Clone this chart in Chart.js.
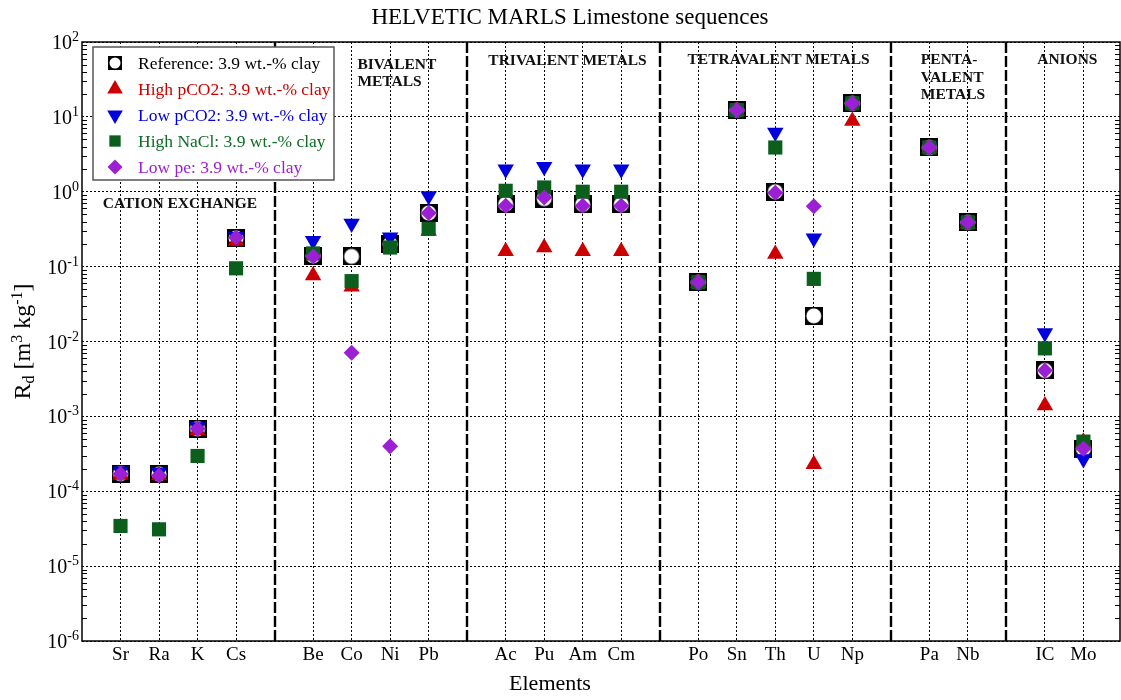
<!DOCTYPE html>
<html>
<head>
<meta charset="utf-8">
<title>HELVETIC MARLS Limestone sequences</title>
<script src="https://cdn.jsdelivr.net/npm/chart.js@4/dist/chart.umd.min.js"></script>
<style>
  html, body { margin: 0; padding: 0; background: #fff; }
  #wrap { width: 1121px; height: 700px; }
</style>
</head>
<body>
<div id="wrap"><canvas id="chart" width="1121" height="700"></canvas></div>
<script>
// Element symbols and their slot on the x axis (empty slots separate the groups)
const elements = ['Sr','Ra','K','Cs','Be','Co','Ni','Pb','Ac','Pu','Am','Cm','Po','Sn','Th','U','Np','Pa','Nb','IC','Mo'];
const slots    = [1, 2, 3, 4, 6, 7, 8, 9, 11, 12, 13, 14, 16, 17, 18, 19, 20, 22, 23, 25, 26];
const groupBreaks = [5, 10, 15, 21, 24];

// Rd values [m3 kg-1], one entry per element above
const reference = [1.72e-4, 1.70e-4, 6.85e-4, 0.24,   0.14, 0.137, 0.20, 0.52,   0.685, 0.81, 0.68, 0.68,   0.062, 12.3, 1.0, 0.022, 15.2,   3.9, 0.39,   0.0041, 3.7e-4];
const highPCO2  = [1.65e-4, 1.62e-4, 6.5e-4,  0.22,   0.076, 0.054, 0.19, 0.30,  0.16, 0.18, 0.16, 0.16,     0.060, 12.0, 0.148, 2.3e-4, 8.8, 3.8, 0.37,   0.0014, 4.6e-4];
const lowPCO2   = [1.85e-4, 1.80e-4, 7.2e-4,  0.25,   0.222, 0.378, 0.246, 0.88, 2.0, 2.15, 2.0, 2.0,        0.063, 12.6, 6.2, 0.24, 15.5,    4.0, 0.40,   0.013, 2.7e-4];
const highNaCl  = [3.44e-5, 3.1e-5, 2.96e-4,  0.095,  0.15, 0.064, 0.18, 0.32,   1.03, 1.14, 1.0, 1.0,       0.062, 12.3, 3.9, 0.0686, 15.2,  3.9, 0.39,   0.0081, 4.6e-4];
const lowPe     = [1.70e-4, 1.62e-4, 6.85e-4, 0.245,  0.137, 0.0071, 4.0e-4, 0.52, 0.65, 0.84, 0.65, 0.65,   0.062, 12.3, 0.97, 0.64, 15.2,   3.9, 0.39,   0.0041, 3.7e-4];

// Decade ticks of the logarithmic axis
const decadeTicks = [1e-6, 1e-5, 1e-4, 1e-3, 1e-2, 1e-1, 1, 10, 100];
const decadeExponents = ['-6', '-5', '-4', '-3', '-2', '-1', '0', '1', '2'];

// Group captions
const groupLabels = [
  { lines: ['CATION EXCHANGE'], x: 0.54, y: 0.69 },
  { lines: ['BIVALENT', 'METALS'], x: 7.15, y: 50 },
  { lines: ['TRIVALENT METALS'], x: 10.55, y: 56 },
  { lines: ['TETRAVALENT METALS'], x: 15.72, y: 57 },
  { lines: ['PENTA-', 'VALENT', 'METALS'], x: 21.78, y: 57 },
  { lines: ['ANIONS'], x: 24.8, y: 57 }
];

const SERIF = '"Liberation Serif", "Times New Roman", Times, serif';

// Marker for the reference case: black square with a white round hole
function makeRefMarker(size) {
  const c = document.createElement('canvas');
  c.width = size; c.height = size;
  const g = c.getContext('2d');
  g.fillStyle = '#000';
  g.fillRect(0, 0, size, size);
  g.fillStyle = '#fff';
  g.beginPath();
  g.arc(size / 2, size / 2, size / 2 - 1.5, 0, Math.PI * 2);
  g.fill();
  return c;
}
const refMarker = makeRefMarker(18);
const refMarkerSmall = makeRefMarker(14);

const series = [
  { label: 'Reference: 3.9 wt.-% clay',  values: reference, color: '#000000', text: '#000000', style: refMarker, legendStyle: refMarkerSmall, radius: 9, legendRadius: 7, rotation: 0 },
  { label: 'High pCO2: 3.9 wt.-% clay',  values: highPCO2,  color: '#cc0000', text: '#cc0000', style: 'triangle', radius: 9.5, legendRadius: 9, rotation: 0 },
  { label: 'Low pCO2: 3.9 wt.-% clay',   values: lowPCO2,   color: '#0000dd', text: '#0000dd', style: 'triangle', radius: 9.5, legendRadius: 9, rotation: 180 },
  { label: 'High NaCl: 3.9 wt.-% clay',  values: highNaCl,  color: '#0b5e1c', text: '#0b6e22', style: 'rect', radius: 10, legendRadius: 8, rotation: 0 },
  { label: 'Low pe: 3.9 wt.-% clay',     values: lowPe,     color: '#9b20d4', text: '#9b20d4', style: 'rectRot', radius: 8, legendRadius: 7.5, rotation: 0 }
];

const datasets = series.map((s, i) => ({
  label: s.label,
  data: s.values.map((v, k) => ({ x: slots[k], y: v })),
  showLine: false,
  pointStyle: s.style,
  pointRadius: s.radius,
  pointRotation: s.rotation,
  pointBackgroundColor: s.color,
  pointBorderWidth: 0,
  pointBorderColor: 'rgba(0,0,0,0)',
  order: series.length - i
}));

function strokeLine(ctx, x1, y1, x2, y2) {
  ctx.beginPath(); ctx.moveTo(x1, y1); ctx.lineTo(x2, y2); ctx.stroke();
}

// Draws runs of text (with sub/superscripts) centred at (cx, cy)
function drawRuns(ctx, runs, cx, cy) {
  let total = 0;
  runs.forEach(r => { ctx.font = r.size + 'px ' + SERIF; r.w = ctx.measureText(r.t).width; total += r.w; });
  let x = cx - total / 2;
  ctx.textAlign = 'left';
  ctx.textBaseline = 'alphabetic';
  runs.forEach(r => { ctx.font = r.size + 'px ' + SERIF; ctx.fillText(r.t, x, cy + r.dy); x += r.w; });
}

const decorations = {
  id: 'decorations',
  beforeDatasetsDraw(chart) {
    const { ctx, chartArea: a, scales: { x, y } } = chart;
    ctx.save();
    ctx.strokeStyle = '#000';

    // group dividers
    ctx.lineWidth = 2.4;
    ctx.setLineDash([11, 3]);
    groupBreaks.forEach(b => {
      const px = Math.round(x.getPixelForValue(b));
      strokeLine(ctx, px, a.top, px, a.bottom);
    });
    ctx.setLineDash([]);

    // minor ticks on both vertical sides
    ctx.lineWidth = 1;
    for (let e = -6; e < 2; e++) {
      for (let m = 2; m <= 9; m++) {
        const py = Math.round(y.getPixelForValue(m * Math.pow(10, e))) + 0.5;
        strokeLine(ctx, a.left, py, a.left + 5, py);
        strokeLine(ctx, a.right - 5, py, a.right, py);
      }
    }

    // plot frame
    ctx.lineWidth = 1.5;
    ctx.strokeRect(a.left, a.top, a.right - a.left, a.bottom - a.top);

    // group captions
    ctx.fillStyle = '#111';
    ctx.font = 'bold 15.5px ' + SERIF;
    ctx.textAlign = 'left';
    ctx.textBaseline = 'middle';
    groupLabels.forEach(g => {
      const px = x.getPixelForValue(g.x);
      const py = y.getPixelForValue(g.y);
      g.lines.forEach((line, i) => ctx.fillText(line, px, py + i * 17.5));
    });
    ctx.restore();
  },
  afterDatasetsDraw(chart) {
    const { ctx, chartArea: a } = chart;
    ctx.save();
    // legend box
    const bx = a.left + 11, by = a.top + 5, bw = 241, bh = 133;
    ctx.fillStyle = '#fff';
    ctx.fillRect(bx, by, bw, bh);
    ctx.strokeStyle = '#555';
    ctx.lineWidth = 1.5;
    ctx.strokeRect(bx, by, bw, bh);
    ctx.font = '17.5px ' + SERIF;
    ctx.textAlign = 'left';
    ctx.textBaseline = 'middle';
    series.forEach((s, i) => {
      const cy = by + 16 + i * 26;
      ctx.fillStyle = s.color;
      Chart.helpers.drawPoint(ctx, {
        pointStyle: s.legendStyle || s.style,
        rotation: s.rotation,
        radius: s.legendRadius,
        borderWidth: 0
      }, bx + 22, cy);
      ctx.fillStyle = s.text;
      ctx.fillText(s.label, bx + 45, cy + 1);
    });
    ctx.restore();
  },
  afterDraw(chart) {
    const { ctx, chartArea: a, scales: { y } } = chart;
    ctx.save();
    ctx.fillStyle = '#000';

    // y tick labels 10^n
    ctx.textBaseline = 'alphabetic';
    ctx.textAlign = 'left';
    decadeTicks.forEach((v, i) => {
      const py = y.getPixelForValue(v);
      ctx.font = '14px ' + SERIF;
      const we = ctx.measureText(decadeExponents[i]).width;
      ctx.font = '20px ' + SERIF;
      const wb = ctx.measureText('10').width;
      const right = a.left - 3;
      ctx.fillText('10', right - we - wb, py + 7);
      ctx.font = '14px ' + SERIF;
      ctx.fillText(decadeExponents[i], right - we, py - 1);
    });

    // chart title
    ctx.font = '23px ' + SERIF;
    ctx.textAlign = 'center';
    ctx.textBaseline = 'middle';
    ctx.fillText('HELVETIC MARLS Limestone sequences', 570, 18);

    // x axis title
    ctx.font = '22px ' + SERIF;
    ctx.fillText('Elements', 550, 684);

    // y axis title
    ctx.translate(22, (a.top + a.bottom) / 2);
    ctx.rotate(-Math.PI / 2);
    drawRuns(ctx, [
      { t: 'R', size: 24, dy: 8 },
      { t: 'd', size: 16, dy: 12 },
      { t: ' [m', size: 24, dy: 8 },
      { t: '3', size: 16, dy: 0 },
      { t: ' kg', size: 24, dy: 8 },
      { t: '-1', size: 16, dy: 0 },
      { t: ']', size: 24, dy: 8 }
    ], 0, 0);
    ctx.restore();
  }
};

new Chart(document.getElementById('chart'), {
  type: 'scatter',
  data: { datasets },
  options: {
    responsive: false,
    animation: false,
    events: [],
    layout: { autoPadding: false, padding: { top: 42, right: 1, left: 0, bottom: 0 } },
    plugins: {
      legend: { display: false },
      tooltip: { enabled: false },
      title: { display: false }
    },
    scales: {
      x: {
        type: 'linear',
        min: 0,
        max: 26.95,
        afterFit: s => { s.height = 59; },
        afterBuildTicks: s => { s.ticks = slots.map(v => ({ value: v })); },
        ticks: {
          autoSkip: false,
          maxRotation: 0,
          padding: 3,
          color: '#000',
          font: { family: SERIF, size: 19 },
          callback: v => { const k = slots.indexOf(v); return k >= 0 ? elements[k] : ''; }
        },
        grid: { color: '#000', lineWidth: 1, drawTicks: false },
        border: { display: false, dash: [2, 2] }
      },
      y: {
        type: 'logarithmic',
        min: 1e-6,
        max: 100,
        afterFit: s => { s.width = 82; },
        afterBuildTicks: s => { s.ticks = decadeTicks.map(v => ({ value: v })); },
        ticks: { display: false },
        grid: { color: '#000', lineWidth: 1, drawTicks: false },
        border: { display: false, dash: [2, 2] }
      }
    }
  },
  plugins: [decorations]
});
</script>
</body>
</html>
